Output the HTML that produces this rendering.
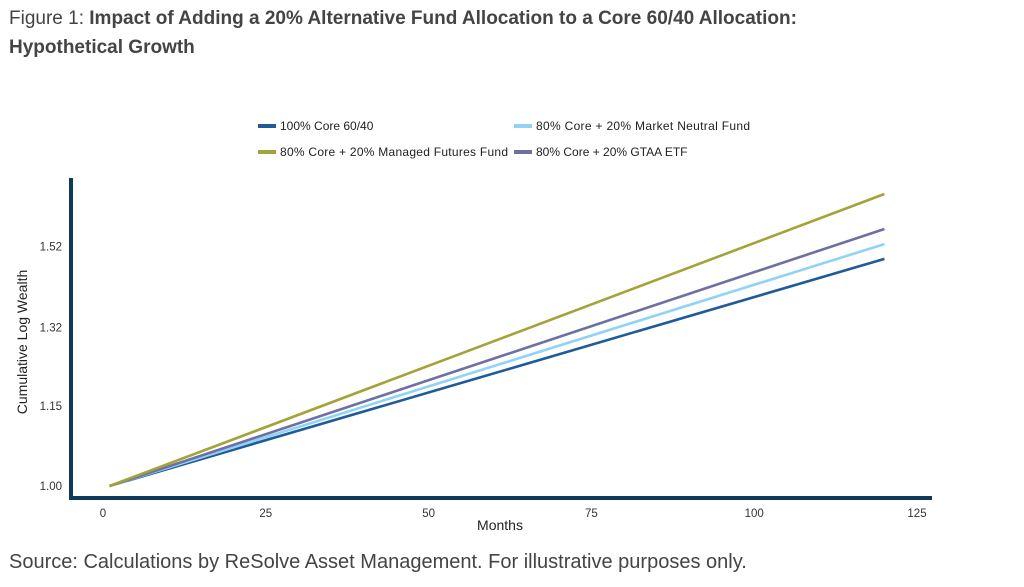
<!DOCTYPE html>
<html><head><meta charset="utf-8"><style>
body{margin:0;background:#fff;width:1024px;height:587px;overflow:hidden;font-family:"Liberation Sans",sans-serif;}
.title{position:absolute;left:9px;top:4px;font-size:19px;line-height:29px;color:#444;}
.title b{color:#444;}
.src{position:absolute;left:9px;top:551px;font-size:20px;color:#444;}
svg{position:absolute;left:0;top:0;}
</style></head><body>
<div class="title">Figure 1: <b>Impact of Adding a 20% Alternative Fund Allocation to a Core 60/40 Allocation:<br>Hypothetical Growth</b></div>
<svg id="c" width="1024" height="587"></svg>
<div class="src">Source: Calculations by ReSolve Asset Management. For illustrative purposes only.</div>
<script>
const months = [1, 120];
const seriesNames = ["100% Core 60/40","80% Core + 20% Market Neutral Fund","80% Core + 20% Managed Futures Fund","80% Core + 20% GTAA ETF"];
const seriesColors = ["#1f5b99","#8fd3f7","#a3a33a","#6f6fa3"];
const coreVals = [1.0, 1.488];
const mnVals = [1.0, 1.527];
const mfVals = [1.0, 1.667];
const gtaaVals = [1.0, 1.568];
const xTicks = [0,25,50,75,100,125];
const yTicks = [1.00,1.15,1.32,1.52];
const NS="http://www.w3.org/2000/svg";
const svg=document.getElementById('c');
function xs(m){return 103+(m/125)*(917-103);}
function ys(v){return 486-Math.log(v)/0.14*80;}
function mk(t,a){const e=document.createElementNS(NS,t);for(const k in a)e.setAttribute(k,a[k]);svg.appendChild(e);return e;}
let e;
e=mk('line',{x1:71,y1:178,x2:71,y2:499,stroke:'#0d3b5e','stroke-width':4});


e=mk('line',{x1:69,y1:498,x2:932,y2:498,stroke:'#0d3b5e','stroke-width':4});


yTicks.forEach(v=>{
 e=mk('text',{x:62,y:ys(v)+4,'text-anchor':'end','font-size':11.5,fill:'#333'});e.textContent=v.toFixed(2);
 
 
});
xTicks.forEach(v=>{
 e=mk('text',{x:xs(v),y:517,'text-anchor':'middle','font-size':11.5,fill:'#333'});e.textContent=v;
 
 
});
e=mk('text',{x:500,y:530,'text-anchor':'middle','font-size':14,fill:'#222'});e.textContent='Months';


e=mk('text',{x:0,y:0,'text-anchor':'middle','font-size':14,fill:'#222',transform:'translate(27,342) rotate(-90)'});e.textContent='Cumulative Log Wealth';


const all=[coreVals,mnVals,mfVals,gtaaVals];
const order=[0,1,3,2];
order.forEach(i=>{
 const pts=months.map((m,j)=>xs(m)+','+ys(all[i][j])).join(' ');
 e=mk('polyline',{points:pts,fill:'none',stroke:seriesColors[i],'stroke-width':2.6});
 
 
});
const legPos=[[258,126],[514,126],[258,152],[514,152]];
seriesNames.forEach((n,i)=>{
 const [x,y]=legPos[i];
 e=mk('line',{x1:x,y1:y,x2:x+18,y2:y,stroke:seriesColors[i],'stroke-width':4});
 
 
 e=mk('text',{x:x+22,y:y+4,'font-size':12,fill:'#222',textLength:i==2?228:(i==1?214:null)});
 if(i!=1&&i!=2)e.removeAttribute('textLength');
 e.textContent=n;
 
 
});
</script>
</body></html>
